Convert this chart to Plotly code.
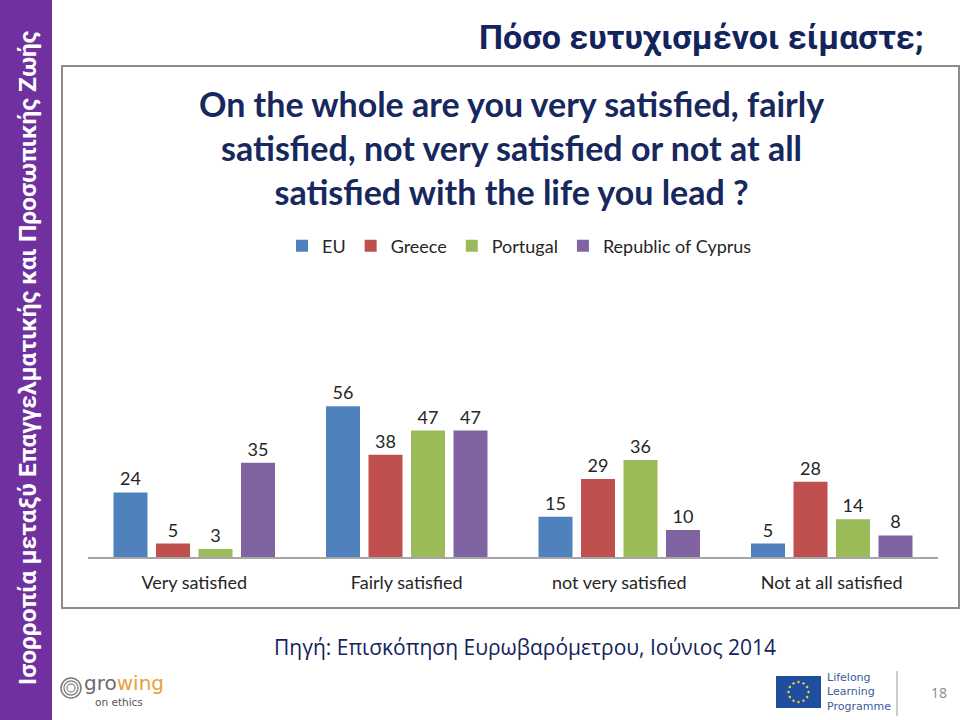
import math
import plotly.graph_objects as go

categories = ["Very satisfied", "Fairly satisfied", "not very satisfied", "Not at all satisfied"]
series_names = ["EU", "Greece", "Portugal", "Republic of Cyprus"]
eu = [24, 56, 15, 5]
greece = [5, 38, 29, 28]
portugal = [3, 47, 36, 14]
cyprus = [35, 47, 10, 8]
colors = ["#4F81BD", "#C0504D", "#9BBB59", "#8064A2"]

W, H = 960, 720
def px(x): return x / W
def py(y): return 1 - y / H

fig = go.Figure()
for name, vals, col in zip(series_names, [eu, greece, portugal, cyprus], colors):
    fig.add_trace(go.Bar(
        x=categories, y=vals, name=name, marker_color=col, marker_line_width=0,
        text=[str(v) for v in vals],
        textposition="outside", cliponaxis=False,
        textfont=dict(family="Lato, Open Sans, sans-serif", size=18, color="#262626"),
    ))

navy = "#13245C"
shapes = [
    dict(type="rect", xref="paper", yref="paper", x0=0, x1=px(52), y0=0, y1=1,
         fillcolor="#7030A0", line_width=0, layer="below"),
    dict(type="rect", xref="paper", yref="paper", x0=px(62), x1=px(959), y0=py(608), y1=py(66),
         line=dict(color="#8C8C8C", width=2), fillcolor="rgba(0,0,0,0)"),
    dict(type="rect", xref="paper", yref="paper", x0=px(776), x1=px(821), y0=py(708), y1=py(676),
         fillcolor="#1F4E9E", line_width=0),
    dict(type="line", xref="paper", yref="paper", x0=px(897), x1=px(897), y0=py(716), y1=py(671),
         line=dict(color="#9A9A9A", width=1)),
]
for k in range(12):
    a = 2 * math.pi * k / 12
    cx, cy = 798.5 + 10 * math.cos(a), 692 + 10 * math.sin(a)
    shapes.append(dict(type="circle", xref="paper", yref="paper",
                       x0=px(cx - 1.2), x1=px(cx + 1.2), y0=py(cy + 1.2), y1=py(cy - 1.2),
                       fillcolor="#F2D33A", line_width=0))
for r, c in [(10, "#7A7A7A"), (7, "#8A8A8A"), (4, "#9A9A9A")]:
    shapes.append(dict(type="circle", xref="paper", yref="paper",
                       x0=px(71 - r), x1=px(71 + r), y0=py(688 + r), y1=py(688 - r),
                       line=dict(color=c, width=1.5), fillcolor="rgba(0,0,0,0)"))

def ann(text, x, y, size, color, family, xanchor="center", align="center", **kw):
    return dict(text=text, x=px(x), y=py(y), xref="paper", yref="paper", showarrow=False,
                xanchor=xanchor, yanchor="middle", align=align,
                font=dict(family=family, size=size, color=color), **kw)

annotations = [
    ann("<b>Ισορροπία μεταξύ Επαγγελματικής και Προσωπικής Ζωής</b>", 27, 358, 24.5, "white",
        "Roboto, sans-serif", textangle=-90),
    ann("<b>Πόσο ευτυχισμένοι είμαστε;</b>", 701, 37, 34, navy, "Roboto, sans-serif"),
    ann("<b>On the whole are you very satisfied, fairly<br>satisfied, not very satisfied or not at all<br>satisfied with the life you lead ?</b>",
        511, 148, 34, "#17285E", "Lato, Open Sans, sans-serif"),
    ann("Πηγή: Επισκόπηση Ευρωβαρόμετρου, Ιούνιος 2014", 525, 647, 21, navy, "Open Sans, Lato, sans-serif"),
    ann("gro<span style='color:#E8A13A'>wing</span>", 82, 683, 20, "#6B6B6B", "DejaVu Sans, sans-serif",
        xanchor="left"),
    ann("on ethics", 93, 702, 10.5, "#555555", "DejaVu Sans, sans-serif", xanchor="left"),
    ann("Lifelong<br>Learning<br>Programme", 825, 692, 11, "#3A5C9A", "DejaVu Sans, sans-serif",
        xanchor="left", align="left"),
    ann("18", 939, 692, 14, "#8A8A8A", "Open Sans, sans-serif"),
]

fig.update_layout(
    width=W, height=H, margin=dict(l=0, r=0, t=0, b=0),
    paper_bgcolor="white", plot_bgcolor="white",
    barmode="group", bargap=0.2, bargroupgap=0.2,
    showlegend=True,
    legend=dict(orientation="h", x=px(282), y=py(246), xanchor="left", yanchor="middle",
                font=dict(family="Lato, Open Sans, sans-serif", size=18, color="#262626"),
                itemwidth=30, traceorder="normal", bgcolor="rgba(0,0,0,0)"),
    xaxis=dict(domain=[px(88), px(938)], showgrid=False, showline=True, linecolor="#A6A6A6", linewidth=1.5,
               ticks="", ticklabelstandoff=9,
               tickfont=dict(family="Lato, Open Sans, sans-serif", size=18, color="#262626")),
    yaxis=dict(domain=[py(557), py(300)], range=[0, 95.5], visible=False, showgrid=False),
    shapes=shapes, annotations=annotations,
)
fig.write_html("out.html", config={"displayModeBar": False},
               post_script="document.body.style.margin='0px';")
